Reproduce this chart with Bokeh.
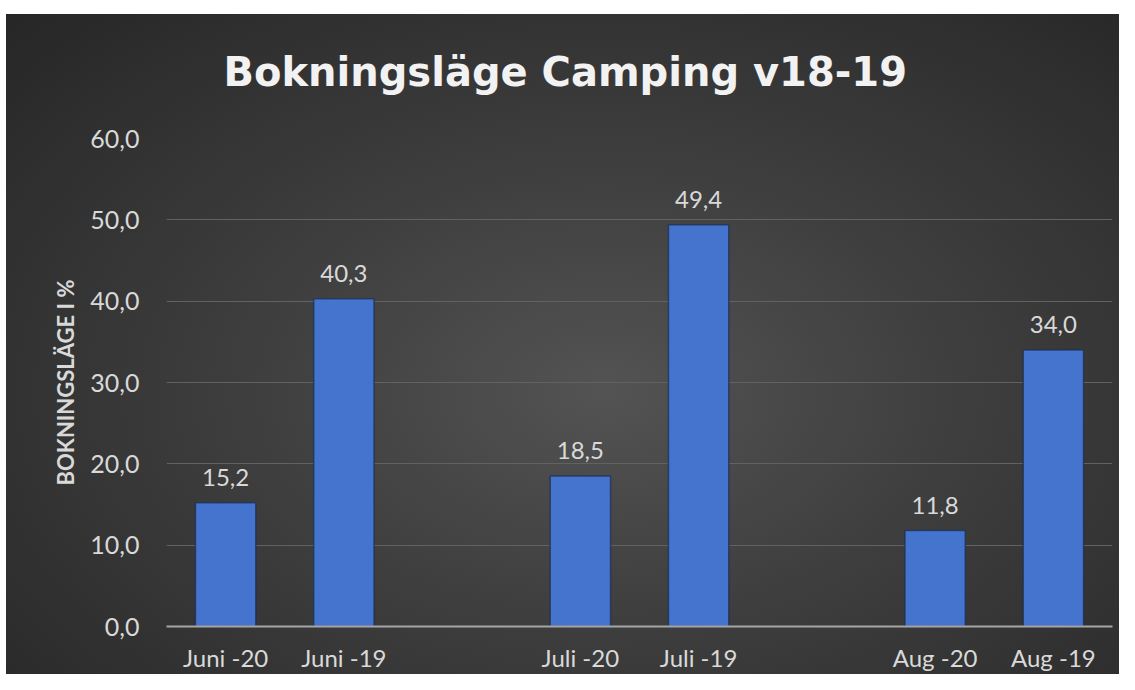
from bokeh.plotting import figure
from bokeh.models import FactorRange, Range1d, ColumnDataSource, CustomJSTickFormatter, LabelSet, FixedTicker
from bokeh.core.properties import value
from bokeh.embed import file_html
from bokeh.resources import INLINE

title_text = "Bokningsläge  Camping  v18-19"
y_label = "BOKNINGSLÄGE I %"
categories = ["Juni -20", "Juni -19", "Juli -20", "Juli -19", "Aug -20", "Aug -19"]
values = [15.2, 40.3, 18.5, 49.4, 11.8, 34.0]
y_ticks = [0, 10, 20, 30, 40, 50, 60]

# factor list with an empty slot between each month pair
factors = []
for i, c in enumerate(categories):
    factors.append(c)
    if i % 2 == 1 and i < len(categories) - 1:
        factors.append(" " * (i // 2 + 1))

labels = [f"{v:.1f}".replace(".", ",") for v in values]
src = ColumnDataSource(dict(cat=categories, val=values, lbl=labels))

p = figure(width=1119, height=674, x_range=FactorRange(*factors), y_range=Range1d(0, 60),
           output_backend="svg", toolbar_location=None, title=title_text,
           min_border_left=166, min_border_right=7, min_border_top=138, min_border_bottom=46)

p.styles = {"background": "linear-gradient(#ffffff, #ffffff) 0 0 / 100% 14px no-repeat, "
                          "linear-gradient(#ffffff, #ffffff) 0 0 / 6px 100% no-repeat, "
                          "radial-gradient(ellipse 75% 80% at 54% 58%, #535353 0%, #3d3d3d 45%, #262626 100%)"}
p.background_fill_color = None
p.border_fill_color = None
p.outline_line_color = None

p.title.text_font = "DejaVu Sans"
p.title.text_font_style = "bold"
p.title.text_font_size = "40px"
p.title.text_color = "#f2f2f2"
p.title.align = "left"
p.title.offset = 57
p.title.standoff = 87

p.vbar(x="cat", top="val", width=0.51, source=src, fill_color="#4574cf",
       line_color="#1c2d50", line_alpha=0.7, line_width=1.5)

p.add_layout(LabelSet(x="cat", y="val", text="lbl", source=src, text_align="center",
                      text_baseline="bottom", y_offset=17, text_font=value("Lato"),
                      text_font_size="24px", text_color="#d9d9d9"))

p.yaxis.ticker = FixedTicker(ticks=y_ticks)
p.yaxis.formatter = CustomJSTickFormatter(code="return tick.toFixed(1).replace('.', ',');")
p.yaxis.axis_line_color = None
p.yaxis.major_tick_line_color = None
p.yaxis.minor_tick_line_color = None
p.yaxis.major_tick_out = 0
p.yaxis.major_tick_in = 0
p.yaxis.minor_tick_out = 0
p.yaxis.major_label_standoff = 27
p.yaxis.major_label_text_font = "Lato"
p.yaxis.major_label_text_font_size = "25px"
p.yaxis.major_label_text_color = "#d9d9d9"
p.yaxis.axis_label = y_label
p.yaxis.axis_label_text_font = "Lato"
p.yaxis.axis_label_text_font_style = "bold"
p.yaxis.axis_label_text_font_size = "22px"
p.yaxis.axis_label_text_color = "#d9d9d9"
p.yaxis.axis_label_standoff = 8

p.xaxis.axis_line_color = "#a6a6a6"
p.xaxis.axis_line_width = 2
p.xaxis.major_tick_line_color = None
p.xaxis.minor_tick_line_color = None
p.xaxis.major_tick_out = 0
p.xaxis.major_tick_in = 0
p.xaxis.minor_tick_out = 0
p.xaxis.major_label_standoff = 16
p.xaxis.major_label_text_font = "Lato"
p.xaxis.major_label_text_font_size = "24px"
p.xaxis.major_label_text_color = "#d9d9d9"

p.xgrid.grid_line_color = None
p.ygrid.grid_line_color = "#626262"
p.ygrid.grid_line_width = 1

open("out.html", "w").write(file_html(p, INLINE))
